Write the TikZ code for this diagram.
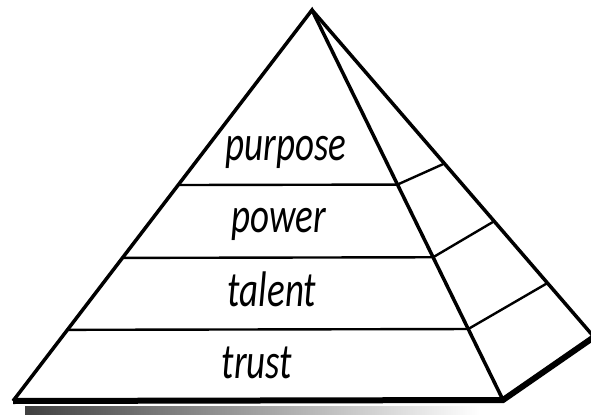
\documentclass[tikz,border=0pt]{standalone}
\usepackage{fontspec}
\setmainfont{Carlito}
\newfontfamily\tierfont[FakeStretch=0.74]{Carlito}
\usetikzlibrary{calc}
\tikzset{
    edge/.style={line width=3.5pt, line join=miter},
    baseedge/.style={line width=6pt, line join=miter},
    level/.style={line width=2.4pt},
    tier/.style={font=\tierfont\fontsize{50}{50}\selectfont\itshape, anchor=base, inner sep=0pt}
}

\begin{document}
\begin{tikzpicture}[x=1pt,y=-1pt]
        \useasboundingbox (0,0) rectangle (591,417);
        % Vertici
        \coordinate (apex) at (312,10);
        \coordinate (bl) at (13,401);
        \coordinate (br) at (503,400);
        \coordinate (bb) at (594,337);

        % Ombra della scansione
        \shade[left color=black!75, right color=white] (25,406) rectangle (480,414);

        % Spigoli
        \draw[edge] (bl) -- (apex) -- (br);
        \draw[edge] (apex) -- (bb);
        \draw[baseedge] (bl) -- (br) -- (bb);

        % Livelli
        \foreach \tf/\tb in {0.4476/0.4695, 0.634/0.646, 0.818/0.835}
        {
            \draw[level] ($(apex)!\tf!(bl)$) -- ($(apex)!\tf!(br)$) -- ($(apex)!\tb!(bb)$);
        }

        % Testi
        \node[tier] (purpose) at (286,160) {purpose};
        \node[tier] (power) at (279,232) {power};
        \node[tier] (talent) at (272,306) {talent};
        \node[tier] (trust) at (257,378) {trust};
    \end{tikzpicture}
\end{document}
